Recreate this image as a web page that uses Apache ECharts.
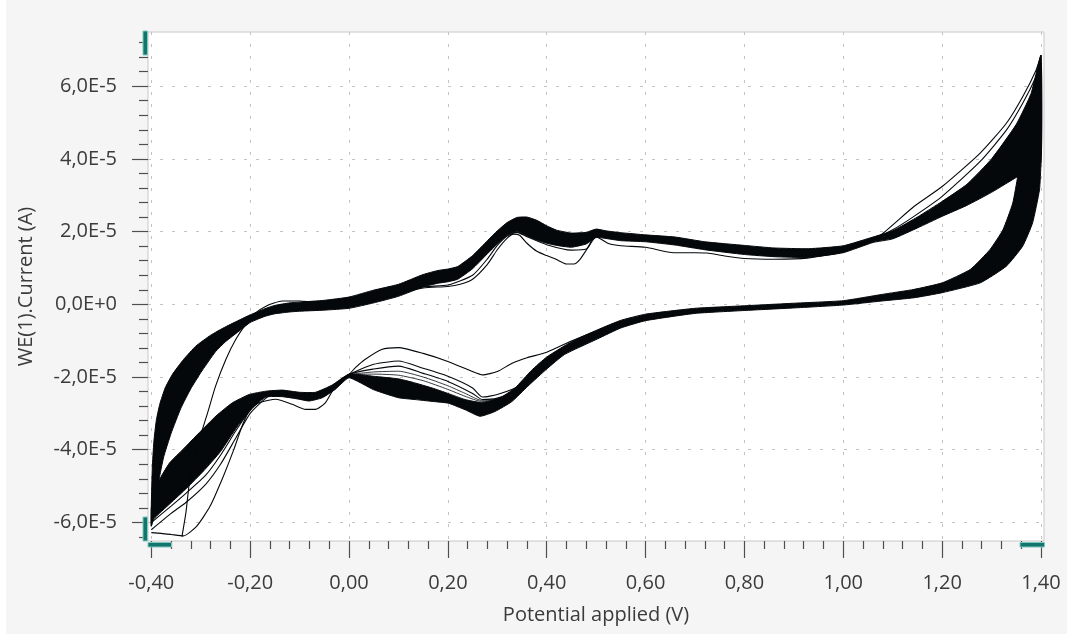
<!DOCTYPE html>
<html>
<head>
<meta charset="utf-8">
<script src="https://cdn.jsdelivr.net/npm/echarts@6/dist/echarts.min.js"></script>
<style>
html,body{margin:0;padding:0;background:#ffffff;}
#bg{position:absolute;left:6px;top:0;width:1061px;height:634px;background:#f5f5f5;}
#c{position:absolute;left:0;top:0;width:1067px;height:641px;}
</style>
</head>
<body>
<div id="bg"></div>
<div id="c"></div>
<script>
// Potential in V, current in units of 1E-5 A
const xMajorTicks = [-0.4,-0.2,0,0.2,0.4,0.6,0.8,1.0,1.2,1.4];
const xMinorTicks = [-0.36,-0.32,-0.28,-0.24,-0.16,-0.12,-0.08,-0.04,0.04,0.08,0.12,0.16,0.24,0.28,0.32,0.36,0.44,0.48,0.52,0.56,0.64,0.68,0.72,0.76,0.84,0.88,0.92,0.96,1.04,1.08,1.12,1.16,1.24,1.28,1.32,1.36];
const yMajorTicks = [-6,-4,-2,0,2,4,6];
const yMinorTicks = [-6.4,-5.6,-5.2,-4.8,-4.4,-3.6,-3.2,-2.8,-2.4,-1.6,-1.2,-0.8,-0.4,0.4,0.8,1.2,1.6,2.4,2.8,3.2,3.6,4.4,4.8,5.2,5.6,6.4,6.8,7.2];
const xRange = [-0.4067, 1.4061];
const yRange = [-6.51, 7.49];

// Dense band of the converged cycles: forward (anodic) sweep, upper and lower edges
const anodicUpper = [[-0.400,-5.50],[-0.398,-4.50],[-0.395,-3.80],[-0.390,-3.20],[-0.383,-2.75],[-0.372,-2.30],[-0.357,-1.92],[-0.335,-1.52],[-0.310,-1.15],[-0.280,-0.85],[-0.250,-0.62],[-0.220,-0.42],[-0.200,-0.29],[-0.170,-0.12],[-0.150,-0.03],[-0.120,0.04],[-0.100,0.06],[-0.050,0.11],[0.000,0.20],[0.050,0.39],[0.100,0.55],[0.150,0.82],[0.180,0.93],[0.200,0.97],[0.220,1.04],[0.250,1.34],[0.280,1.75],[0.300,2.02],[0.320,2.25],[0.340,2.39],[0.360,2.40],[0.380,2.31],[0.400,2.16],[0.420,2.04],[0.450,1.96],[0.480,1.98],[0.500,2.07],[0.520,2.02],[0.550,1.97],[0.600,1.91],[0.660,1.85],[0.720,1.72],[0.800,1.62],[0.860,1.55],[0.930,1.53],[1.000,1.61],[1.060,1.85],[1.100,2.02],[1.150,2.40],[1.200,2.83],[1.250,3.30],[1.300,4.00],[1.350,4.95],[1.380,5.80],[1.400,6.85]];
const anodicLower = [[-0.400,-6.10],[-0.392,-5.50],[-0.385,-4.86],[-0.375,-4.20],[-0.360,-3.55],[-0.340,-2.85],[-0.320,-2.32],[-0.300,-1.88],[-0.270,-1.30],[-0.250,-1.03],[-0.220,-0.71],[-0.200,-0.50],[-0.170,-0.33],[-0.150,-0.26],[-0.120,-0.21],[-0.100,-0.19],[-0.050,-0.16],[0.000,-0.11],[0.050,0.04],[0.100,0.22],[0.150,0.48],[0.180,0.58],[0.200,0.62],[0.220,0.69],[0.250,0.98],[0.280,1.39],[0.300,1.66],[0.320,1.90],[0.340,2.00],[0.360,1.88],[0.380,1.77],[0.400,1.68],[0.420,1.62],[0.450,1.57],[0.480,1.66],[0.500,1.84],[0.520,1.81],[0.550,1.75],[0.600,1.72],[0.660,1.63],[0.720,1.50],[0.800,1.37],[0.860,1.31],[0.930,1.29],[1.000,1.42],[1.060,1.70],[1.100,1.80],[1.150,2.10],[1.200,2.42],[1.250,2.72],[1.300,3.08],[1.357,3.55],[1.380,3.75],[1.400,3.90]];
// Dense band: reverse (cathodic) sweep, upper and lower edges
const cathodicUpper = [[1.400,6.85],[1.353,3.52],[1.343,2.79],[1.323,2.05],[1.297,1.51],[1.257,0.96],[1.200,0.59],[1.143,0.41],[1.077,0.27],[1.000,0.10],[0.900,0.03],[0.800,-0.04],[0.700,-0.11],[0.600,-0.27],[0.550,-0.44],[0.503,-0.70],[0.450,-1.03],[0.400,-1.45],[0.369,-1.82],[0.336,-2.30],[0.302,-2.60],[0.268,-2.70],[0.235,-2.62],[0.200,-2.45],[0.168,-2.30],[0.130,-2.15],[0.100,-2.05],[0.050,-1.98],[0.000,-1.92],[-0.034,-2.22],[-0.068,-2.42],[-0.100,-2.42],[-0.135,-2.36],[-0.168,-2.39],[-0.202,-2.48],[-0.236,-2.71],[-0.269,-3.07],[-0.303,-3.53],[-0.336,-3.99],[-0.363,-4.36],[-0.385,-4.86],[-0.395,-5.30],[-0.400,-5.60]];
const cathodicLower = [[1.400,6.85],[1.401,4.80],[1.400,3.88],[1.397,3.15],[1.383,2.24],[1.363,1.60],[1.330,1.05],[1.277,0.59],[1.200,0.32],[1.143,0.18],[1.077,0.09],[1.000,-0.02],[0.900,-0.10],[0.800,-0.17],[0.700,-0.25],[0.600,-0.45],[0.550,-0.65],[0.503,-0.95],[0.436,-1.38],[0.400,-1.78],[0.362,-2.25],[0.329,-2.68],[0.295,-2.95],[0.265,-3.08],[0.235,-2.90],[0.201,-2.72],[0.168,-2.67],[0.134,-2.62],[0.100,-2.57],[0.050,-2.35],[0.000,-2.02],[-0.028,-2.34],[-0.054,-2.57],[-0.081,-2.66],[-0.101,-2.61],[-0.135,-2.54],[-0.168,-2.55],[-0.193,-2.82],[-0.227,-3.38],[-0.260,-4.05],[-0.294,-4.58],[-0.328,-5.05],[-0.362,-5.48],[-0.395,-5.90],[-0.400,-6.10]];

// Early cycles, drawn as single traces
const scan1Anodic = [[-0.338,-6.39],[-0.330,-5.73],[-0.323,-4.91],[-0.313,-4.25],[-0.303,-3.72],[-0.286,-2.98],[-0.270,-2.25],[-0.249,-1.51],[-0.229,-0.96],[-0.209,-0.55],[-0.190,-0.25],[-0.168,-0.05],[-0.135,0.09],[-0.100,0.09],[-0.068,0.06],[-0.030,0.06],[0.000,0.05],[0.050,0.15],[0.100,0.30],[0.150,0.45],[0.200,0.49],[0.225,0.55],[0.250,0.69],[0.280,1.10],[0.300,1.50],[0.320,1.82],[0.333,1.93],[0.345,1.90],[0.360,1.68],[0.380,1.46],[0.400,1.34],[0.420,1.23],[0.440,1.11],[0.455,1.11],[0.467,1.23],[0.483,1.55],[0.500,1.85],[0.510,1.79],[0.525,1.67],[0.550,1.61],[0.600,1.57],[0.657,1.42],[0.700,1.42],[0.724,1.41],[0.760,1.33],[0.800,1.26],[0.860,1.24],[0.927,1.27],[1.000,1.45],[1.050,1.75],[1.077,1.92],[1.143,2.69],[1.200,3.24],[1.277,4.16],[1.330,4.98],[1.363,5.71],[1.390,6.44],[1.400,6.85]];
const scan1Cathodic = [[0.550,-0.50],[0.503,-0.72],[0.450,-1.01],[0.400,-1.32],[0.360,-1.47],[0.330,-1.62],[0.300,-1.85],[0.270,-1.94],[0.250,-1.85],[0.200,-1.57],[0.150,-1.35],[0.100,-1.19],[0.066,-1.24],[0.033,-1.51],[0.013,-1.74],[0.000,-1.93],[-0.015,-2.05],[-0.028,-2.25],[-0.048,-2.71],[-0.068,-2.89],[-0.088,-2.89],[-0.115,-2.75],[-0.148,-2.61],[-0.182,-2.71],[-0.200,-2.89],[-0.215,-3.30],[-0.233,-3.99],[-0.254,-4.72],[-0.281,-5.55],[-0.308,-6.10],[-0.335,-6.37],[-0.360,-6.33],[-0.380,-6.30],[-0.400,-6.28]];
const scan2Anodic = [[0.100,0.28],[0.150,0.48],[0.200,0.53],[0.250,0.80],[0.280,1.25],[0.300,1.62],[0.320,1.88],[0.340,1.98],[0.360,1.86],[0.400,1.64],[0.450,1.49],[0.480,1.52],[0.500,1.93],[0.520,1.88],[0.550,1.83],[0.600,1.78],[0.660,1.66],[0.720,1.53],[0.800,1.40],[0.860,1.33],[0.930,1.35],[1.000,1.48],[1.050,1.72],[1.100,2.05],[1.143,2.42],[1.200,2.97],[1.277,3.93],[1.330,4.79],[1.363,5.53],[1.390,6.26],[1.400,6.65]];
const scan2Cathodic = [[0.550,-0.52],[0.500,-0.81],[0.450,-1.17],[0.400,-1.67],[0.350,-2.21],[0.300,-2.48],[0.270,-2.55],[0.250,-2.30],[0.200,-1.98],[0.150,-1.76],[0.100,-1.56],[0.050,-1.65],[0.000,-1.93],[-0.050,-2.40],[-0.100,-2.50],[-0.150,-2.45],[-0.180,-2.55],[-0.200,-2.90],[-0.230,-3.50],[-0.260,-4.15],[-0.290,-4.70],[-0.330,-5.20],[-0.360,-5.55],[-0.400,-6.00]];
const scan3Cathodic = [[0.450,-1.20],[0.400,-1.70],[0.350,-2.33],[0.300,-2.58],[0.270,-2.62],[0.250,-2.45],[0.200,-2.12],[0.150,-1.90],[0.100,-1.70],[0.050,-1.78],[0.000,-1.93],[-0.050,-2.42],[-0.100,-2.50],[-0.150,-2.45],[-0.170,-2.60],[-0.200,-3.00],[-0.230,-3.70],[-0.260,-4.40],[-0.290,-4.95],[-0.330,-5.45],[-0.360,-5.75],[-0.400,-6.20]];
const scan4Cathodic = [[0.350,-2.30],[0.300,-2.60],[0.268,-2.64],[0.235,-2.45],[0.200,-2.24],[0.150,-2.00],[0.100,-1.84],[0.050,-1.86],[0.000,-1.93]];
const scan5Cathodic = [[0.350,-2.32],[0.300,-2.61],[0.268,-2.67],[0.235,-2.53],[0.200,-2.34],[0.150,-2.10],[0.100,-1.95],[0.050,-1.92],[0.000,-1.93]];

const FONT = '"Open Sans", "Noto Sans", sans-serif';
const TEXT = '#3b3b3b';
const TICK = '#4f4f4f';
const INK = '#04080b';

const chart = echarts.init(document.getElementById('c'), null, {renderer: 'canvas'});

function bandSeries(name, upper, lower) {
  const poly = upper.concat(lower.slice().reverse());
  return {
    name: name, type: 'custom', coordinateSystem: 'cartesian2d', xAxisIndex: 0, yAxisIndex: 0,
    silent: true, clip: true, z: 2,
    data: [upper[0]],
    renderItem: function (params, api) {
      return {
        type: 'polygon',
        shape: {points: poly.map(function (p) { return api.coord(p); }), smooth: 0.15},
        style: {fill: INK, stroke: INK, lineWidth: 1}
      };
    }
  };
}
function traceSeries(name, data, width) {
  return {
    name: name, type: 'line', data: data, xAxisIndex: 0, yAxisIndex: 0,
    showSymbol: false, symbol: 'none', smooth: 0.2, clip: true, silent: true, z: 3,
    lineStyle: {color: INK, width: width || 1.1}
  };
}
const xFmt = function (v) { return v.toFixed(2).replace('.', ','); };
const yFmt = function (v) { return Math.abs(v) < 1e-9 ? '0,0E+0' : v.toFixed(1).replace('.', ',') + 'E-5'; };

const option = {
  animation: false,
  backgroundColor: 'transparent',
  grid: {left: 148, top: 32, width: 896, height: 509, show: true, backgroundColor: '#ffffff',
         borderColor: '#c8c8c8', borderWidth: 1, containLabel: false, outerBoundsMode: 'none'},
  xAxis: [
    {type: 'value', min: xRange[0], max: xRange[1], position: 'bottom', splitNumber: 9,
     axisLine: {show: false, onZero: false},
     axisTick: {show: true, length: 17, customValues: xMajorTicks, lineStyle: {color: TICK, width: 1.2}},
     axisLabel: {customValues: xMajorTicks, formatter: xFmt, margin: 32, color: TEXT, fontSize: 20, fontFamily: FONT},
     splitLine: {show: true, lineStyle: {color: '#c3c3c3', width: 1, type: [3, 9]}},
     name: 'Potential applied (V)', nameLocation: 'middle', nameGap: 64,
     nameTextStyle: {color: TEXT, fontSize: 20, fontFamily: FONT}},
    {type: 'value', min: xRange[0], max: xRange[1], position: 'bottom', splitNumber: 9,
     axisLine: {show: false, onZero: false},
     axisTick: {show: true, length: 8, customValues: xMinorTicks, lineStyle: {color: TICK, width: 1.2}},
     axisLabel: {show: false}, splitLine: {show: false}}
  ],
  yAxis: [
    {type: 'value', min: yRange[0], max: yRange[1], position: 'left', splitNumber: 7,
     axisLine: {show: false, onZero: false},
     axisTick: {show: true, length: 16, customValues: yMajorTicks, lineStyle: {color: TICK, width: 1.2}},
     axisLabel: {customValues: yMajorTicks, formatter: yFmt, margin: 31, color: TEXT, fontSize: 20, fontFamily: FONT},
     splitLine: {show: true, lineStyle: {color: '#c3c3c3', width: 1, type: [3, 9]}},
     name: 'WE(1).Current (A)', nameLocation: 'middle', nameGap: 112,
     nameTextStyle: {color: TEXT, fontSize: 20, fontFamily: FONT}},
    {type: 'value', min: yRange[0], max: yRange[1], position: 'left', splitNumber: 7,
     axisLine: {show: false, onZero: false},
     axisTick: {show: true, length: 9, customValues: yMinorTicks, lineStyle: {color: TICK, width: 1.2}},
     axisLabel: {show: false}, splitLine: {show: false}}
  ],
  graphic: [
    {type: 'rect', z: 100, shape: {x: 143, y: 31, width: 4.5, height: 24}, style: {fill: '#12766c', stroke: '#7fc7bf', lineWidth: 1}},
    {type: 'rect', z: 100, shape: {x: 143, y: 517, width: 4.5, height: 24}, style: {fill: '#12766c', stroke: '#7fc7bf', lineWidth: 1}},
    {type: 'rect', z: 100, shape: {x: 148, y: 542.5, width: 23.5, height: 4.5}, style: {fill: '#12766c', stroke: '#7fc7bf', lineWidth: 1}},
    {type: 'rect', z: 100, shape: {x: 1020, y: 542.5, width: 24.5, height: 4.5}, style: {fill: '#12766c', stroke: '#7fc7bf', lineWidth: 1}}
  ],
  series: [
    bandSeries('anodic band', anodicUpper, anodicLower),
    bandSeries('cathodic band', cathodicUpper, cathodicLower),
    traceSeries('scan 1 forward', scan1Anodic),
    traceSeries('scan 1 reverse', scan1Cathodic),
    traceSeries('scan 2 forward', scan2Anodic),
    traceSeries('scan 2 reverse', scan2Cathodic),
    traceSeries('scan 3 reverse', scan3Cathodic),
    traceSeries('scan 4 reverse', scan4Cathodic, 0.8),
    traceSeries('scan 5 reverse', scan5Cathodic, 0.8)
  ]
};
chart.setOption(option);
</script>
</body>
</html>
